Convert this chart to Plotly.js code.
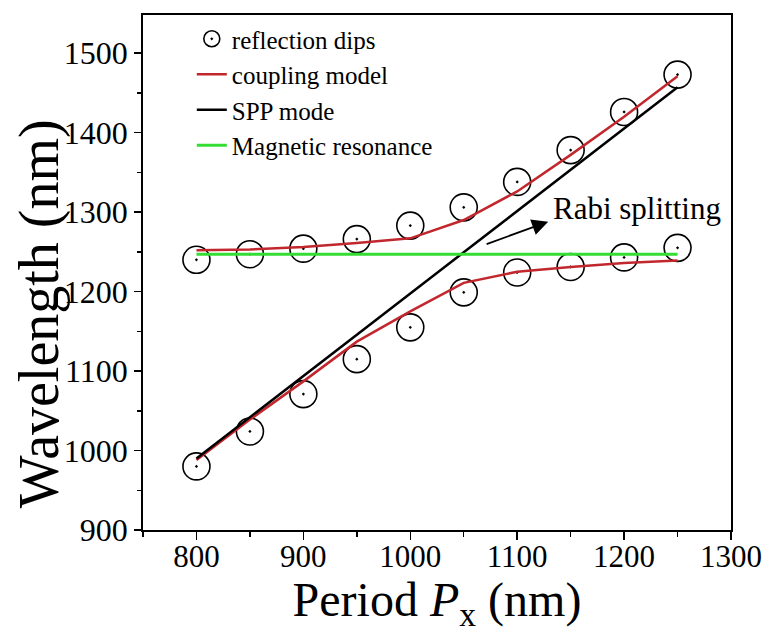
<!DOCTYPE html>
<html>
<head>
<meta charset="utf-8">
<script src="https://cdn.plot.ly/plotly-3.0.1.min.js"></script>
<style>html,body{margin:0;padding:0;background:#fff;}</style>
</head>
<body>
<div id="chart" style="width:767px;height:633px;"></div>
<script>
// Data
const periods = [800, 850, 900, 950, 1000, 1050, 1100, 1150, 1200, 1250];
const dipsUpper = [1240, 1247, 1254, 1266, 1283, 1306, 1338, 1378, 1426, 1473];
const dipsLower = [980, 1024, 1071, 1115, 1155, 1199, 1224, 1231, 1243, 1255];
const couplingUpper = [1252, 1253, 1256, 1261, 1267, 1290, 1326, 1372, 1420, 1471];
const couplingLower = [988, 1039, 1087, 1137, 1175, 1211, 1225, 1231, 1236, 1239];
const sppPeriods = [800, 1250];
const sppWavelength = [990, 1457];
const magPeriods = [800, 1250];
const magWavelength = [1247, 1247];
const xTicks = [800, 900, 1000, 1100, 1200, 1300];
const yTicks = [900, 1000, 1100, 1200, 1300, 1400, 1500];

const serif = '"Liberation Serif", "Times New Roman", serif';

const traces = [
  {
    name: 'reflection dips',
    x: periods.concat(periods),
    y: dipsUpper.concat(dipsLower),
    mode: 'markers',
    type: 'scatter',
    marker: {symbol: 'circle-open-dot', size: 27, color: '#000', line: {width: 1.6, color: '#000'}}
  },
  {
    name: 'coupling model',
    x: periods.concat([null], periods),
    y: couplingUpper.concat([null], couplingLower),
    mode: 'lines',
    type: 'scatter',
    line: {color: '#c1272d', width: 2.5}
  },
  {
    name: 'SPP mode',
    x: sppPeriods,
    y: sppWavelength,
    mode: 'lines',
    type: 'scatter',
    line: {color: '#000000', width: 2.5}
  },
  {
    name: 'Magnetic resonance',
    x: magPeriods,
    y: magWavelength,
    mode: 'lines',
    type: 'scatter',
    line: {color: '#33dd33', width: 3}
  }
];

const layout = {
  width: 767,
  height: 633,
  margin: {l: 143, r: 36, t: 15, b: 103},
  paper_bgcolor: '#fff',
  plot_bgcolor: '#fff',
  font: {family: serif, color: '#000'},
  showlegend: true,
  legend: {
    x: 0.083, y: 0.998, xanchor: 'left', yanchor: 'top',
    bgcolor: 'rgba(0,0,0,0)',
    font: {family: serif, size: 25, color: '#000'},
    tracegroupgap: 0
  },
  xaxis: {
    range: [750, 1300],
    tickvals: xTicks,
    ticktext: xTicks.map(String),
    ticks: 'outside', ticklen: 8, tickwidth: 1.5, tickcolor: '#000',
    ticklabelposition: 'outside',
    ticklabelstandoff: -10,
    minor: {ticks: 'outside', ticklen: 5, tickwidth: 1.5, tickcolor: '#000', dtick: 50, tick0: 750, showgrid: false},
    showline: true, linecolor: '#000', linewidth: 1.8, mirror: true,
    showgrid: false, zeroline: false,
    tickfont: {family: serif, size: 31, color: '#000'},
    title: {text: 'Period <i>P</i><sub>x</sub> (nm)', font: {family: serif, size: 48, color: '#000'}, standoff: 8}
  },
  yaxis: {
    range: [900, 1548],
    tickvals: yTicks,
    ticktext: yTicks.map(String),
    ticks: 'outside', ticklen: 7, tickwidth: 1.5, tickcolor: '#000',
    minor: {ticks: 'outside', ticklen: 4, tickwidth: 1.5, tickcolor: '#000', dtick: 50, tick0: 900, showgrid: false},
    showline: true, linecolor: '#000', linewidth: 1.8, mirror: true,
    showgrid: false, zeroline: false,
    tickfont: {family: serif, size: 32, color: '#000'},
    title: {text: ''}
  },
  annotations: [
    {
      xref: 'paper', yref: 'paper',
      x: -0.176, y: 0.42, xanchor: 'center', yanchor: 'middle',
      text: 'Wavelength (nm)', textangle: -90, showarrow: false,
      font: {family: serif, size: 56, color: '#000'}
    },
    {
      x: 1129, y: 1288, ax: 1070, ay: 1259,
      xref: 'x', yref: 'y', axref: 'x', ayref: 'y',
      text: '', showarrow: true,
      arrowhead: 2, arrowsize: 1.8, arrowwidth: 1.8, arrowcolor: '#000'
    },
    {
      x: 1132, y: 1305, xref: 'x', yref: 'y',
      xanchor: 'left', yanchor: 'middle',
      text: 'Rabi splitting', showarrow: false,
      font: {family: serif, size: 31, color: '#000'}
    }
  ]
};

Plotly.newPlot('chart', traces, layout, {displayModeBar: false, staticPlot: true});
</script>
</body>
</html>
